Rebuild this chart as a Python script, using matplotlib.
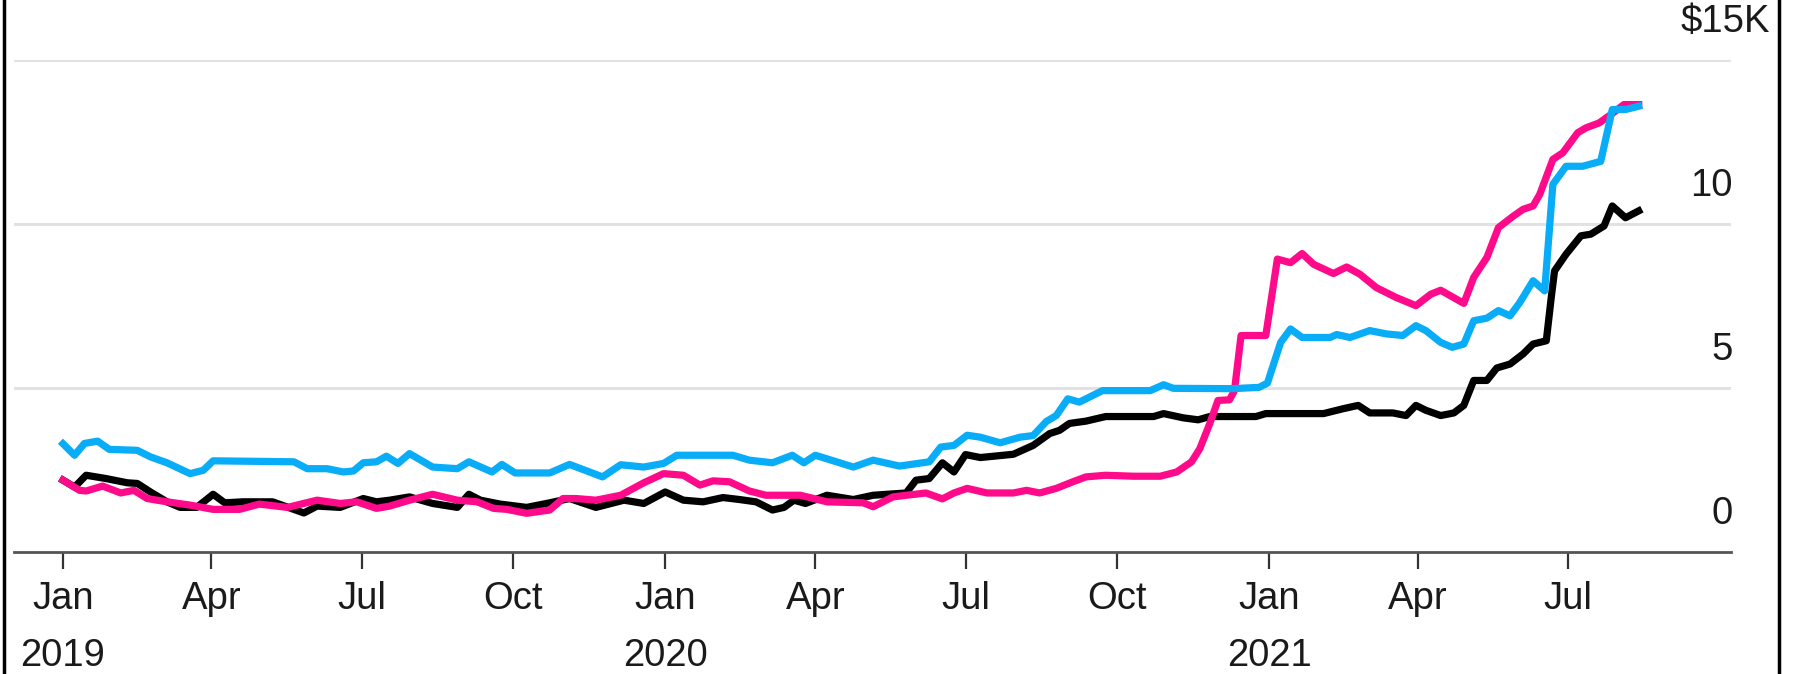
import pandas as pd
import matplotlib
matplotlib.use('Agg')
from matplotlib import pyplot as plt
import matplotlib.dates as mdates
import matplotlib.transforms as mtransforms
from matplotlib.lines import Line2D

plt.rcParams['font.family'] = ['Liberation Sans', 'DejaVu Sans']

start = pd.Timestamp('2019-01-01')

# days since 2019-01-01, values in $K
black_days = [0, 7, 14, 26, 39, 45, 53, 63, 71, 81, 91, 98, 109, 127, 146, 154, 168, 182, 190,
              198, 210, 224, 239, 246, 253, 265, 281, 295, 307, 323, 340, 352, 365, 376, 388, 400,
              410, 420, 430, 437, 443, 450, 463, 479, 491, 511, 517, 525, 533, 540, 547, 556, 576,
              588, 598, 604, 610, 620, 632, 661, 667, 679, 688, 695, 723, 729, 764, 776, 785, 792,
              806, 814, 820, 826, 835, 843, 849, 855, 863, 869, 877, 885, 891, 899, 902, 904, 911,
              920, 926, 934, 939, 947, 955]
black_vals = [2.19, 1.98, 2.34, 2.24, 2.11, 2.09, 1.83, 1.53, 1.36, 1.36, 1.76, 1.50, 1.53, 1.53, 1.19,
              1.40, 1.36, 1.63, 1.53, 1.58, 1.68, 1.48, 1.36, 1.76, 1.58, 1.46, 1.36, 1.50, 1.63, 1.36,
              1.58, 1.48, 1.83, 1.58, 1.53, 1.66, 1.60, 1.53, 1.28, 1.36, 1.58, 1.48, 1.73, 1.60, 1.73,
              1.80, 2.19, 2.24, 2.72, 2.44, 2.97, 2.88, 2.98, 3.25, 3.61, 3.71, 3.92, 3.99, 4.13, 4.13,
              4.22, 4.09, 4.03, 4.13, 4.13, 4.22, 4.22, 4.37, 4.47, 4.24, 4.24, 4.16, 4.47, 4.32, 4.16,
              4.24, 4.47, 5.23, 5.23, 5.61, 5.73, 6.04, 6.34, 6.44, 7.76, 8.57, 9.08, 9.64, 9.69, 9.94,
              10.55, 10.19, 10.40]

blue_days = [0, 7, 13, 21, 28, 45, 53, 63, 77, 85, 91, 140, 148, 160, 170, 176, 182, 190, 196, 203,
             210, 224, 239, 246, 260, 266, 274, 295, 307, 327, 338, 352, 364, 372, 406, 416, 430, 442,
             449, 456, 479, 491, 507, 525, 532, 540, 548, 556, 568, 580, 588, 596, 602, 609, 616, 630,
             659, 667, 673, 709, 725, 730, 738, 744, 751, 768, 772, 780, 792, 802, 812, 820, 826, 835,
             842, 849, 855, 863, 870, 877, 883, 891, 898, 903, 911, 921, 932, 939, 947, 955]
blue_vals = [3.30, 2.95, 3.31, 3.38, 3.13, 3.10, 2.90, 2.72, 2.39, 2.49, 2.78, 2.75, 2.54, 2.54, 2.44,
             2.47, 2.72, 2.75, 2.92, 2.70, 3.00, 2.59, 2.54, 2.75, 2.44, 2.67, 2.41, 2.41, 2.67, 2.29,
             2.66, 2.59, 2.70, 2.95, 2.95, 2.80, 2.72, 2.95, 2.72, 2.95, 2.59, 2.80, 2.62, 2.75, 3.20,
             3.25, 3.56, 3.50, 3.33, 3.50, 3.55, 3.98, 4.16, 4.67, 4.57, 4.92, 4.92, 5.10, 4.99, 4.98,
             5.02, 5.15, 6.39, 6.80, 6.54, 6.54, 6.63, 6.54, 6.75, 6.65, 6.60, 6.90, 6.75, 6.39, 6.24,
             6.34, 7.05, 7.13, 7.36, 7.20, 7.61, 8.27, 7.96, 11.21, 11.76, 11.76, 11.91, 13.49, 13.49,
             13.59]

pink_days = [0, 10, 14, 24, 35, 43, 51, 63, 77, 91, 107, 119, 136, 154, 168, 178, 190, 198, 210, 224,
             239, 251, 261, 269, 281, 295, 303, 311, 323, 338, 352, 364, 376, 386, 394, 404, 416, 426,
             447, 463, 485, 491, 503, 523, 533, 540, 548, 560, 576, 584, 592, 602, 612, 620, 632, 649,
             665, 675, 684, 689, 695, 700, 707, 710, 714, 729, 736, 744, 751, 758, 770, 778, 786, 796,
             808, 820, 829, 835, 849, 855, 863, 870, 879, 885, 891, 895, 903, 909, 918, 923, 931, 938,
             946, 955]
pink_vals = [2.19, 1.88, 1.86, 2.01, 1.80, 1.88, 1.63, 1.53, 1.43, 1.30, 1.30, 1.46, 1.36, 1.58, 1.48,
             1.53, 1.33, 1.40, 1.58, 1.76, 1.58, 1.53, 1.33, 1.30, 1.18, 1.28, 1.63, 1.63, 1.58, 1.73,
             2.11, 2.39, 2.34, 2.04, 2.17, 2.14, 1.86, 1.73, 1.73, 1.53, 1.50, 1.38, 1.68, 1.80, 1.62,
             1.80, 1.94, 1.80, 1.80, 1.88, 1.80, 1.94, 2.14, 2.29, 2.34, 2.31, 2.31, 2.44, 2.75, 3.15,
             3.91, 4.62, 4.64, 4.92, 6.60, 6.60, 8.93, 8.82, 9.10, 8.77, 8.49, 8.69, 8.47, 8.06, 7.76,
             7.51, 7.86, 7.98, 7.58, 8.37, 8.98, 9.89, 10.24, 10.45, 10.55, 10.90, 11.97, 12.17, 12.78,
             12.93, 13.08, 13.33, 13.64, 13.64]

tick_dates = ['2019-01-01', '2019-04-01', '2019-07-01', '2019-10-01', '2020-01-01', '2020-04-01',
              '2020-07-01', '2020-10-01', '2021-01-01', '2021-04-01', '2021-07-01']
tick_labels = ['Jan', 'Apr', 'Jul', 'Oct', 'Jan', 'Apr', 'Jul', 'Oct', 'Jan', 'Apr', 'Jul']
years = ['2019', '2020', '2021']
y_levels = [0, 5, 10]


def to_dates(days):
    return start + pd.to_timedelta(days, unit='D')


fig = plt.figure(figsize=(17.95, 6.74), dpi=100)
ax = fig.add_axes([0.0078, 0.181, 0.9565, 0.730])

lw = 5.2
ax.plot(to_dates(black_days), black_vals, color='black', lw=lw, solid_joinstyle='round', zorder=3)
ax.plot(to_dates(pink_days), pink_vals, color='#FF0A8A', lw=lw, solid_joinstyle='round', zorder=4)
ax.plot(to_dates(blue_days), blue_vals, color='#08ACF7', lw=lw, solid_joinstyle='round', zorder=5)

ax.set_ylim(0, 15)
ax.set_xlim(start - pd.Timedelta(days=29.7), start + pd.Timedelta(days=1010.9))

for y in [5, 10, 15]:
    ax.axhline(y, color='#e2e2e2', lw=2.2, zorder=0)

for s in ['left', 'right', 'top']:
    ax.spines[s].set_visible(False)
ax.spines['bottom'].set_color('#555555')
ax.spines['bottom'].set_linewidth(2)
ax.set_yticks([])

ticks = pd.to_datetime(tick_dates)
ax.set_xticks(ticks)
ax.set_xticklabels(tick_labels, fontsize=27.5)
ax.tick_params(axis='x', length=12, width=1.6, color='#333333', pad=9, labelcolor='#1a1a1a')

# years under January ticks
trans = mtransforms.blended_transform_factory(ax.transData, ax.transAxes)
for yr in years:
    ax.text(mdates.date2num(pd.Timestamp(yr + '-01-01')), -0.212, yr, transform=trans,
            ha='center', va='center', fontsize=27.5, color='#1a1a1a')

# value labels on the right, above the gridlines
trans_r = mtransforms.blended_transform_factory(ax.transAxes, ax.transData)
for v in y_levels:
    ax.text(1.001, v + 1.15, str(v), transform=trans_r, ha='right', va='center',
            fontsize=27.5, color='#1a1a1a')
ax.text(1.0227, 15 + 1.15, '$15K', transform=trans_r, ha='right', va='center',
        fontsize=27.5, color='#1a1a1a')

# frame lines at the sides
fig.add_artist(Line2D([0.002, 0.002], [0, 1], color='black', lw=2.5))
fig.add_artist(Line2D([0.9911, 0.9911], [0, 1], color='black', lw=2.5))

fig.savefig('out.png', dpi=100)
